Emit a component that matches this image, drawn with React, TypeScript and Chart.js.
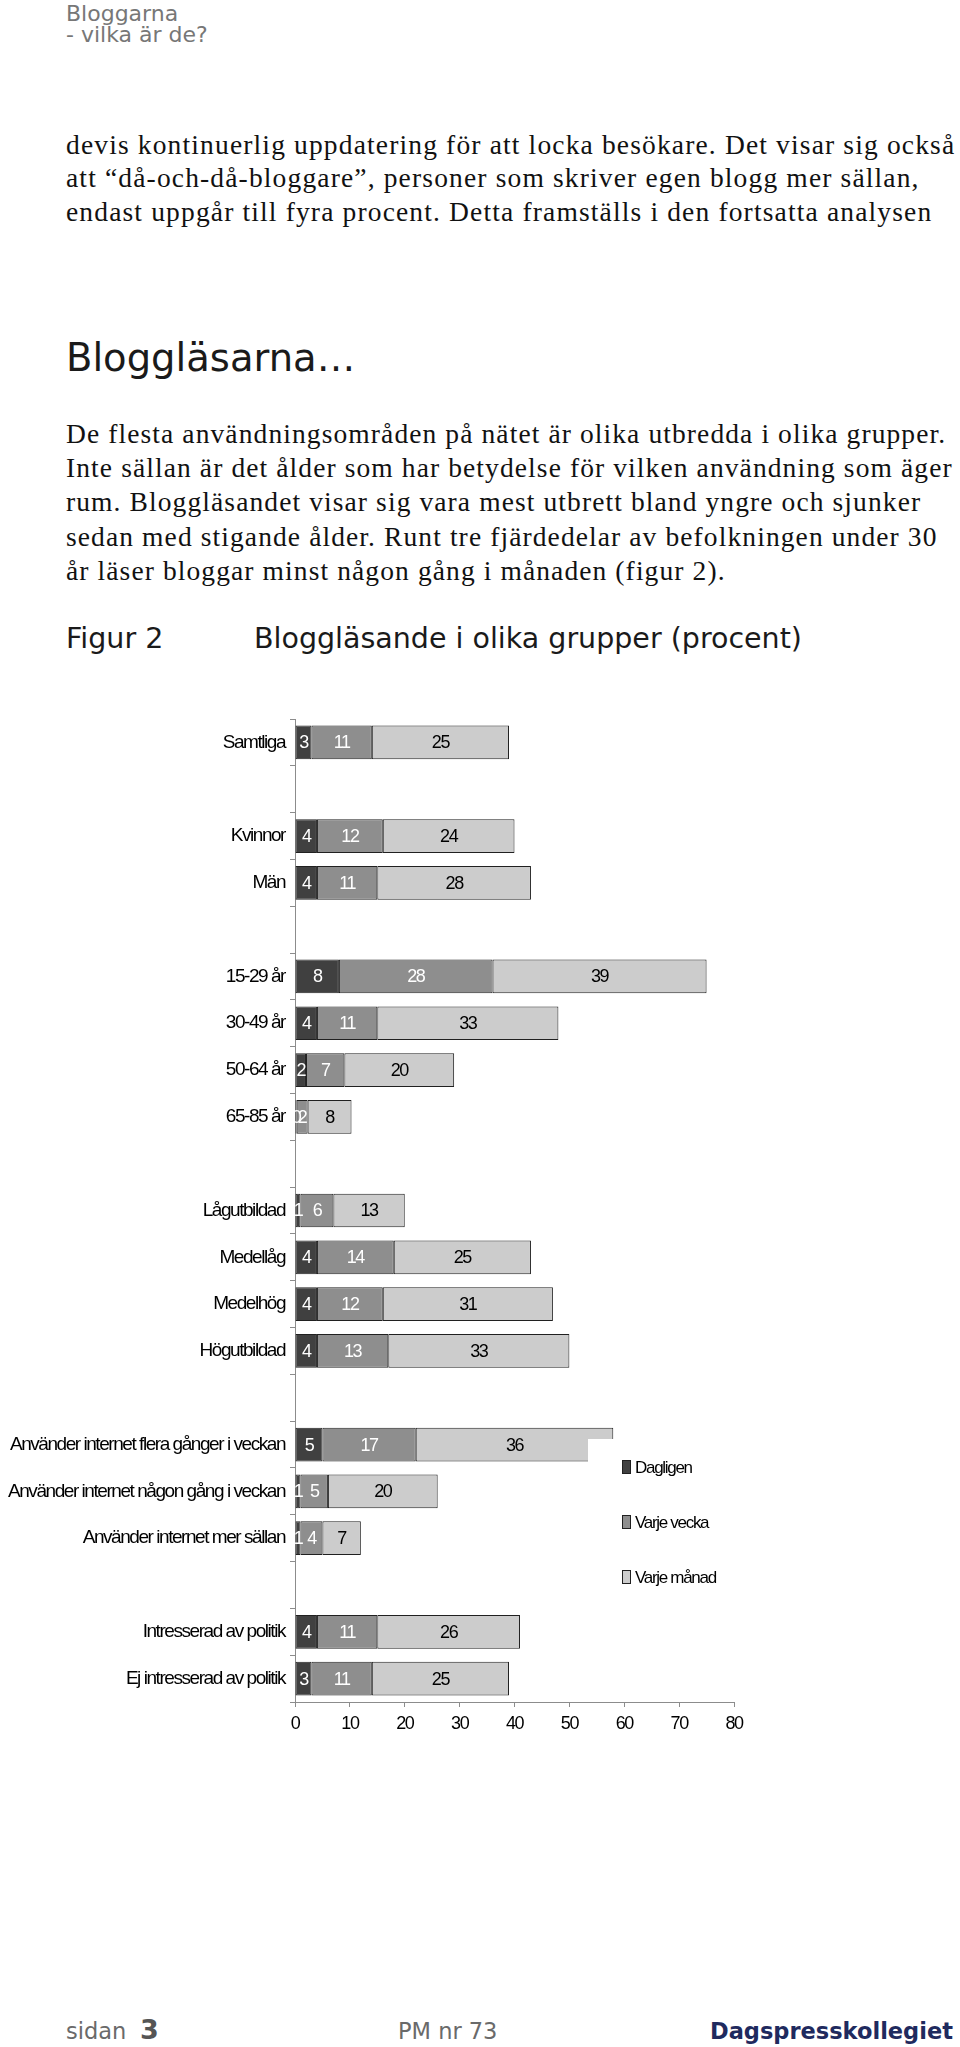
import { useEffect, useRef } from "react";
import { Chart, registerables } from "chart.js";

Chart.register(...registerables);

const categories = [
  "Samtliga",
  "",
  "Kvinnor",
  "Män",
  "",
  "15-29 år",
  "30-49 år",
  "50-64 år",
  "65-85 år",
  "",
  "Lågutbildad",
  "Medellåg",
  "Medelhög",
  "Högutbildad",
  "",
  "Använder internet flera gånger i veckan",
  "Använder internet någon gång i veckan",
  "Använder internet mer sällan",
  "",
  "Intresserad av politik",
  "Ej intresserad av politik",
];

const seriesNames = ["Dagligen", "Varje vecka", "Varje månad"];

const dagligen = [3, null, 4, 4, null, 8, 4, 2, 0.3, null, 1, 4, 4, 4, null, 5, 1, 1, null, 4, 3];
const varjeVecka = [11, null, 12, 11, null, 28, 11, 7, 2, null, 6, 14, 12, 13, null, 17, 5, 4, null, 11, 11];
const varjeManad = [25, null, 24, 28, null, 39, 33, 20, 8, null, 13, 25, 31, 33, null, 36, 20, 7, null, 26, 25];

const xMin = 0;
const xMax = 80;
const xStep = 10;

const barColors = ["#404040", "#8e8e8e", "#cccccc"];
const labelColors = ["#ffffff", "#ffffff", "#000000"];
const FONT = "'Liberation Sans', Arial, sans-serif";
const SPACING = "-1.45px";

const tightText = {
  id: "tightText",
  beforeDraw(chart: any) {
    chart.ctx.letterSpacing = SPACING;
  },
};

const valueLabels = {
  id: "valueLabels",
  afterDatasetsDraw(chart: any) {
    const ctx = chart.ctx;
    ctx.save();
    ctx.letterSpacing = SPACING;
    ctx.font = `18px ${FONT}`;
    ctx.textAlign = "center";
    ctx.textBaseline = "middle";
    chart.data.datasets.forEach((ds: any, di: number) => {
      const meta = chart.getDatasetMeta(di);
      ctx.fillStyle = labelColors[di];
      meta.data.forEach((el: any, i: number) => {
        const v = ds.data[i];
        if (v == null) return;
        ctx.fillText(String(Math.round(v)), (el.x + el.base) / 2, el.y + 1);
      });
    });
    ctx.restore();
  },
};

const boxLegend = {
  id: "boxLegend",
  afterDraw(chart: any) {
    const ctx = chart.ctx;
    ctx.save();
    ctx.fillStyle = "#ffffff";
    ctx.fillRect(588, 739, 172, 175);
    ctx.letterSpacing = "-1.3px";
    ctx.font = `17px ${FONT}`;
    ctx.textAlign = "left";
    ctx.textBaseline = "middle";
    seriesNames.forEach((name, i) => {
      const cy = 767 + i * 55;
      ctx.fillStyle = barColors[i];
      ctx.fillRect(622, cy - 7, 9, 14);
      ctx.strokeStyle = "#202020";
      ctx.lineWidth = 1;
      ctx.strokeRect(622.5, cy - 6.5, 8, 13);
      ctx.fillStyle = "#000000";
      ctx.fillText(name, 635, cy + 1);
    });
    ctx.restore();
  },
};

function BlogChart() {
  const canvasRef = useRef<HTMLCanvasElement>(null);

  useEffect(() => {
    const canvas = canvasRef.current;
    if (!canvas) return;
    const series = [dagligen, varjeVecka, varjeManad];
    const chart = new Chart(canvas, {
      type: "bar",
      data: {
        labels: categories,
        datasets: series.map((d, i) => ({
          label: seriesNames[i],
          data: d,
          backgroundColor: barColors[i],
          borderColor: "#202020",
          borderWidth: 1,
          borderSkipped: false,
          categoryPercentage: 1,
          barPercentage: 0.72,
        })),
      },
      options: {
        indexAxis: "y",
        animation: false,
        responsive: true,
        maintainAspectRatio: false,
        layout: { padding: { top: 19, right: 226, bottom: 0, left: 0 } },
        plugins: {
          legend: { display: false },
          tooltip: { enabled: false },
        },
        scales: {
          x: {
            type: "linear",
            stacked: true,
            min: xMin,
            max: xMax,
            ticks: {
              stepSize: xStep,
              padding: 6,
              color: "#000",
              font: { family: FONT, size: 18 },
            },
            grid: { drawOnChartArea: false, tickLength: 5, color: "#8c8c8c" },
            border: { color: "#8c8c8c" },
            afterFit(s: any) {
              s.height = 45;
            },
          },
          y: {
            type: "category",
            stacked: true,
            ticks: {
              autoSkip: false,
              padding: 5,
              color: "#000",
              font: { family: FONT, size: 19 },
            },
            grid: {
              offset: true,
              drawOnChartArea: false,
              tickLength: 5,
              color: "#8c8c8c",
            },
            border: { color: "#8c8c8c" },
            afterFit(s: any) {
              s.width = 295;
            },
          },
        },
      },
      plugins: [tightText, valueLabels, boxLegend],
    });
    return () => chart.destroy();
  }, []);

  return (
    <div style={{ position: "absolute", left: 0, top: 700, width: 960, height: 1047 }}>
      <canvas ref={canvasRef} />
    </div>
  );
}

const SANS = "'DejaVu Sans', Verdana, sans-serif";
const SERIF = "'Liberation Serif', 'Times New Roman', serif";

function Line(props: {
  x: number;
  baseline: number;
  size: number;
  family: string;
  k: number;
  color?: string;
  weight?: number;
  spacing?: number;
  children: any;
}) {
  const { x, baseline, size, family, k, color, weight, spacing, children } = props;
  return (
    <div
      style={{
        position: "absolute",
        left: x,
        top: baseline - size * k,
        fontSize: size,
        lineHeight: `${size}px`,
        fontFamily: family,
        color: color ?? "#111",
        fontWeight: weight ?? 400,
        letterSpacing: spacing ?? 0,
        whiteSpace: "nowrap",
      }}
    >
      {children}
    </div>
  );
}

const block1 = [
  "devis kontinuerlig uppdatering för att locka besökare. Det visar sig också",
  "att \u201cdå-och-då-bloggare\u201d, personer som skriver egen blogg mer sällan,",
  "endast uppgår till fyra procent. Detta framställs i den fortsatta analysen",
];
const block1Baselines = [154, 187.5, 221];

const block2 = [
  "De flesta användningsområden på nätet är olika utbredda i olika grupper.",
  "Inte sällan är det ålder som har betydelse för vilken användning som äger",
  "rum. Bloggläsandet visar sig vara mest utbrett bland yngre och sjunker",
  "sedan med stigande ålder. Runt tre fjärdedelar av befolkningen under 30",
  "år läser bloggar minst någon gång i månaden (figur 2).",
];
const block2Baselines = [443, 477, 511.5, 546, 580];

const KS = 0.846;
const KR = 0.8375;

export default function App() {
  return (
    <div
      style={{
        position: "absolute",
        left: 0,
        top: 0,
        width: 960,
        height: 2047,
        background: "#fff",
        overflow: "hidden",
      }}
    >
      <Line x={66} baseline={22} size={22} family={SANS} k={KS} color="#777">
        Bloggarna
      </Line>
      <Line x={66} baseline={43} size={22} family={SANS} k={KS} color="#777">
        - vilka är de?
      </Line>

      {block1.map((t, i) => (
        <Line key={i} x={66} baseline={block1Baselines[i]} size={27.5} family={SERIF} k={KR} spacing={1.15}>
          {t}
        </Line>
      ))}

      <Line x={66} baseline={372} size={38.5} family={SANS} k={KS} color="#1a1a1a">
        Bloggläsarna…
      </Line>

      {block2.map((t, i) => (
        <Line key={i} x={66} baseline={block2Baselines[i]} size={27.5} family={SERIF} k={KR} spacing={1.1}>
          {t}
        </Line>
      ))}

      <Line x={66} baseline={649} size={28.5} family={SANS} k={KS} color="#1a1a1a">
        Figur 2
      </Line>
      <Line x={254} baseline={649} size={28.5} family={SANS} k={KS} color="#1a1a1a">
        Bloggläsande i olika grupper (procent)
      </Line>

      <BlogChart />

      <Line x={66} baseline={2039} size={22.5} family={SANS} k={KS} color="#6a6a6a">
        sidan
      </Line>
      <Line x={140} baseline={2039} size={27} family={SANS} k={KS} color="#555" weight={700}>
        3
      </Line>
      <Line x={398} baseline={2039} size={22.5} family={SANS} k={KS} color="#6a6a6a">
        PM nr 73
      </Line>
      <Line x={710} baseline={2039} size={22.5} family={SANS} k={KS} color="#1f2a5e" weight={700}>
        Dagspresskollegiet
      </Line>
    </div>
  );
}
